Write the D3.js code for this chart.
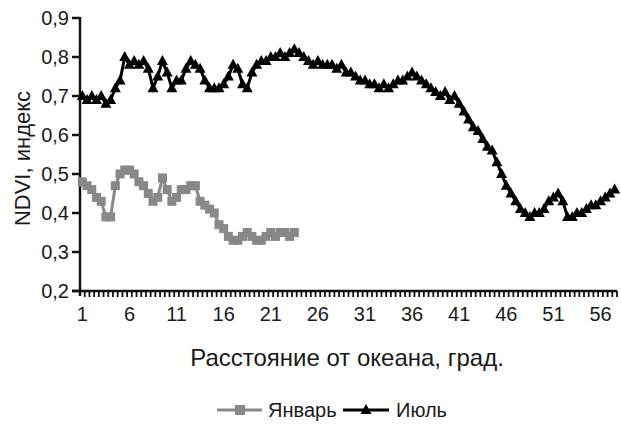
<!DOCTYPE html>
<html>
<head>
<meta charset="utf-8">
<script src="https://cdn.jsdelivr.net/npm/d3@7"></script>
<style>
  body { margin: 0; background: #fff; }
  svg { display: block; font-family: 'Liberation Sans', Arial, sans-serif; }
</style>
</head>
<body>
<div id="chart"></div>
<script>
// distance from the ocean, degrees (half-degree steps)
const distance = d3.range(1, 58, 0.5);
const xTickLabels = [1, 6, 11, 16, 21, 26, 31, 36, 41, 46, 51, 56];
const yTicks = [0.2, 0.3, 0.4, 0.5, 0.6, 0.7, 0.8, 0.9];

const january = [
  0.48, 0.47, 0.46, 0.44, 0.43, 0.39, 0.39, 0.47, 0.50, 0.51,
  0.51, 0.50, 0.48, 0.47, 0.45, 0.43, 0.44, 0.49, 0.46, 0.43,
  0.44, 0.46, 0.46, 0.47, 0.47, 0.43, 0.42, 0.41, 0.40, 0.37,
  0.36, 0.34, 0.33, 0.33, 0.34, 0.35, 0.34, 0.33, 0.33, 0.34,
  0.35, 0.34, 0.35, 0.35, 0.34, 0.35
];

const july = [
  0.70, 0.69, 0.70, 0.69, 0.70, 0.68, 0.69, 0.72, 0.74, 0.80,
  0.78, 0.79, 0.78, 0.79, 0.77, 0.72, 0.75, 0.79, 0.76, 0.72,
  0.74, 0.74, 0.77, 0.79, 0.78, 0.77, 0.74, 0.72, 0.72, 0.72,
  0.73, 0.75, 0.78, 0.77, 0.73, 0.72, 0.76, 0.78, 0.79, 0.79,
  0.80, 0.80, 0.81, 0.80, 0.81, 0.82, 0.81, 0.80, 0.79, 0.78,
  0.79, 0.78, 0.78, 0.78, 0.77, 0.78, 0.76, 0.76, 0.75, 0.74,
  0.74, 0.73, 0.73, 0.72, 0.73, 0.72, 0.73, 0.74, 0.74, 0.75,
  0.76, 0.75, 0.74, 0.73, 0.72, 0.71, 0.70, 0.71, 0.69, 0.70,
  0.68, 0.66, 0.64, 0.62, 0.61, 0.59, 0.57, 0.56, 0.53, 0.50,
  0.47, 0.45, 0.43, 0.41, 0.40, 0.39, 0.40, 0.40, 0.41, 0.43,
  0.44, 0.45, 0.43, 0.39, 0.39, 0.40, 0.40, 0.41, 0.42, 0.42,
  0.43, 0.44, 0.45, 0.46
];

const W = 621, H = 430;
const M = { left: 80, right: 4, top: 18, bottom: 139 };

const COL = { jan: '#888888', jul: '#000', axis: '#111', text: '#1a1a1a' };

const svg = d3.select('#chart').append('svg')
  .attr('width', W).attr('height', H)
  .attr('viewBox', `0 0 ${W} ${H}`);

const x = d3.scaleBand().domain(distance).range([M.left, W - M.right]).padding(0);
const y = d3.scaleLinear().domain([0.2, 0.9]).range([H - M.bottom, M.top]);
const cx = d => x(d) + x.bandwidth() / 2;
const fmt = v => d3.format('.1f')(v).replace('.', ',');

// Y axis
const yAxis = svg.append('g');
yAxis.append('line')
  .attr('x1', M.left).attr('x2', M.left)
  .attr('y1', y(0.9) - 1).attr('y2', y(0.2) + 5)
  .attr('stroke', COL.axis).attr('stroke-width', 2.5);
yAxis.selectAll('line.tick').data(yTicks).enter().append('line')
  .attr('class', 'tick')
  .attr('x1', M.left - 8).attr('x2', M.left)
  .attr('y1', d => y(d)).attr('y2', d => y(d))
  .attr('stroke', COL.axis).attr('stroke-width', 2.5);
yAxis.selectAll('text').data(yTicks).enter().append('text')
  .attr('x', M.left - 11).attr('y', d => y(d))
  .attr('dy', '0.36em')
  .attr('text-anchor', 'end')
  .attr('font-size', 20)
  .attr('fill', COL.text)
  .text(fmt);

// X axis
const xAxis = svg.append('g');
xAxis.append('line')
  .attr('x1', M.left - 8).attr('x2', W - M.right)
  .attr('y1', y(0.2)).attr('y2', y(0.2))
  .attr('stroke', COL.axis).attr('stroke-width', 2.5);
const boundaries = distance.map(d => x(d)).concat([x.range()[1]]);
xAxis.selectAll('line.tick').data(boundaries.slice(1)).enter().append('line')
  .attr('class', 'tick')
  .attr('x1', d => d).attr('x2', d => d)
  .attr('y1', y(0.2)).attr('y2', y(0.2) + 6)
  .attr('stroke', COL.axis).attr('stroke-width', 1.8);
xAxis.selectAll('text').data(xTickLabels).enter().append('text')
  .attr('x', d => cx(d)).attr('y', y(0.2) + 30)
  .attr('text-anchor', 'middle')
  .attr('font-size', 20)
  .attr('fill', COL.text)
  .text(d => d);

// Axis titles
svg.append('text')
  .attr('transform', `translate(30,${(y(0.9) + y(0.2)) / 2 + 4}) rotate(-90)`)
  .attr('text-anchor', 'middle')
  .attr('font-size', 22)
  .attr('fill', COL.text)
  .text('NDVI, индекс');
svg.append('text')
  .attr('x', 347).attr('y', 366)
  .attr('text-anchor', 'middle')
  .attr('font-size', 24)
  .attr('fill', COL.text)
  .text('Расстояние от океана, град.');

// Series
const line = d3.line().x(d => cx(d.x)).y(d => y(d.v));
const janData = january.map((v, i) => ({ x: distance[i], v }));
const julData = july.map((v, i) => ({ x: distance[i], v }));

const triPath = 'M0,-6L5.5,4L-5.5,4Z';

svg.append('path').datum(janData)
  .attr('d', line).attr('fill', 'none')
  .attr('stroke', COL.jan).attr('stroke-width', 3);
svg.append('g').selectAll('rect').data(janData).enter().append('rect')
  .attr('x', d => cx(d.x) - 4.5).attr('y', d => y(d.v) - 4.5)
  .attr('width', 9).attr('height', 9)
  .attr('fill', COL.jan);

svg.append('path').datum(julData)
  .attr('d', line).attr('fill', 'none')
  .attr('stroke', COL.jul).attr('stroke-width', 3);
svg.append('g').selectAll('path').data(julData).enter().append('path')
  .attr('d', triPath)
  .attr('transform', d => `translate(${cx(d.x)},${y(d.v)})`)
  .attr('fill', COL.jul);

// Legend
const leg = svg.append('g').attr('transform', 'translate(0,410)');
leg.append('line').attr('x1', 217).attr('x2', 262).attr('y1', 0).attr('y2', 0)
  .attr('stroke', COL.jan).attr('stroke-width', 3);
leg.append('rect').attr('x', 235).attr('y', -5).attr('width', 10).attr('height', 10)
  .attr('fill', COL.jan);
leg.append('text').attr('x', 268).attr('y', 0).attr('dy', '0.36em')
  .attr('font-size', 20).attr('fill', COL.text).text('Январь');
leg.append('line').attr('x1', 343).attr('x2', 389).attr('y1', 0).attr('y2', 0)
  .attr('stroke', COL.jul).attr('stroke-width', 3);
leg.append('path').attr('d', triPath).attr('transform', 'translate(366,0)')
  .attr('fill', COL.jul);
leg.append('text').attr('x', 396).attr('y', 0).attr('dy', '0.36em')
  .attr('font-size', 20).attr('fill', COL.text).text('Июль');
</script>
</body>
</html>
